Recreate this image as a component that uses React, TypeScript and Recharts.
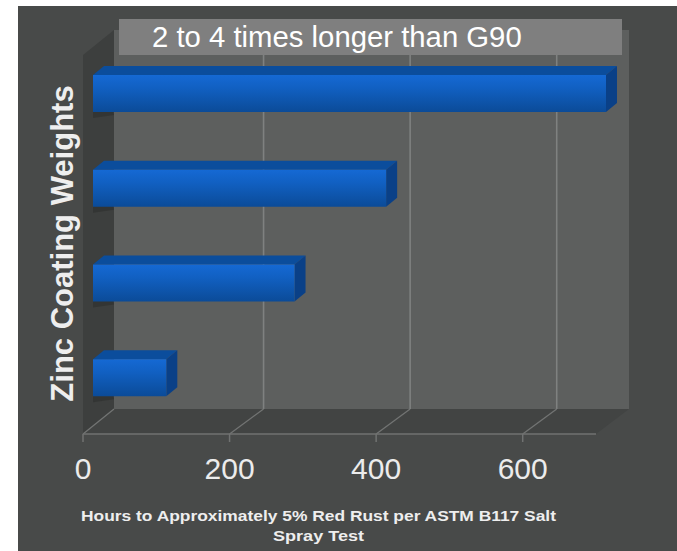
import React from "react";
import { BarChart, Bar, XAxis, YAxis, ReferenceLine } from "recharts";

const coatingWeights = ["G360", "G235", "G185", "G90"];
const rustHours = [700, 400, 275, 100];
const hourTicks = [0, 200, 400, 600];
const tableRows = coatingWeights.map((weight, i) => ({ weight, hours: rustHours[i] }));

const titleText = "2 to 4 times longer than G90";
const yTitle = "Zinc Coating Weights";
const xTitleLines = [
  { text: "Hours to Approximately 5% Red Rust per ASTM B117 Salt", length: 475 },
  { text: "Spray Test", length: 91 },
];

// Extrusion of the pseudo-3D box that surrounds the plot.
const WALL_DX = 34;
const WALL_DY = 25;
// Placement and extrusion of each bar inside that box.
const BAR_SHIFT_X = 10;
const BAR_SHIFT_Y = 9;
const BAR_DX = 11;
const BAR_DY = 9;

// A gridline climbs the back wall and runs across the floor to its tick.
const DepthGridLine = ({ x1, y1, y2, dx, showWall }: any) => {
  const top = Math.min(y1, y2);
  const bottom = Math.max(y1, y2);
  const bx = x1 + dx;
  return (
    <g fill="none">
      {showWall && <line x1={bx} y1={top} x2={bx} y2={bottom - WALL_DY} stroke="#7f8180" strokeWidth={1.6} />}
      <line x1={bx} y1={bottom - WALL_DY} x2={x1} y2={bottom} stroke="#727473" strokeWidth={1.3} />
    </g>
  );
};

const Bar3D = ({ x, y, width, height }: any) => {
  const fx = x + BAR_SHIFT_X;
  const fy = y - BAR_SHIFT_Y;
  const r = fx + width;
  const b = fy + height;
  return (
    <g>
      <polygon
        points={`${fx},${fy} ${fx + 12},${fy + 2} ${fx + 21},${b + 3} ${fx},${b + 6}`}
        fill="#2b2d2c"
        opacity={0.55}
      />
      <polygon
        points={`${fx},${fy} ${fx + BAR_DX},${fy - BAR_DY} ${r + BAR_DX},${fy - BAR_DY} ${r},${fy}`}
        fill="#0b4d9c"
      />
      <polygon
        points={`${r},${fy} ${r + BAR_DX},${fy - BAR_DY} ${r + BAR_DX},${b - BAR_DY} ${r},${b}`}
        fill="#0a4087"
      />
      <rect x={fx} y={fy} width={width} height={height} fill="url(#barFace)" />
    </g>
  );
};

export default function App() {
  return (
    <div style={{ position: "absolute", left: 0, top: 0, width: 677, height: 551, background: "#fff", overflow: "hidden" }}>
      <BarChart
        width={677}
        height={551}
        data={tableRows}
        layout="vertical"
        margin={{ top: 55, right: 81, bottom: 0, left: 83 }}
        style={{ fontFamily: "'Liberation Sans', Arial, sans-serif" }}
      >
        <defs>
          <linearGradient id="barFace" x1="0" y1="0" x2="0" y2="1">
            <stop offset="0" stopColor="#1569d4" />
            <stop offset="0.35" stopColor="#1160c2" />
            <stop offset="1" stopColor="#0b4b98" />
          </linearGradient>
        </defs>
        {/* panel, back wall, left wall and floor of the box */}
        <rect x={18} y={6} width={659} height={545} fill="#484a49" />
        <polygon points="114,30 629,30 629,409 114,409" fill="#5d5f5e" />
        <polygon points="83,55 114,30 114,409 83,434" fill="#3d3f3e" />
        <polygon points="83,434 114,409 629,409 596,434" fill="#424443" />
        <XAxis
          type="number"
          domain={[0, 700]}
          ticks={hourTicks}
          height={117}
          interval={0}
          stroke="#707271"
          strokeWidth={1.5}
          tickSize={8}
          tickMargin={16}
          tick={{ fill: "#ececec", fontSize: 30 }}
        />
        <YAxis type="category" dataKey="weight" width={0} tick={false} axisLine={false} tickLine={false} />
        {hourTicks.map((tick) => (
          <ReferenceLine
            key={tick}
            x={tick}
            zIndex={100}
            shape={<DepthGridLine showWall={tick > 0} dx={tick > 0 ? WALL_DX : 31} />}
          />
        ))}
        <Bar dataKey="hours" barSize={37} isAnimationActive={false} shape={<Bar3D />} />
        <rect x={119} y={19} width={503} height={36} fill="#7f7f7f" />
        <text x={152} y={47} fill="#ffffff" fontSize={29.3}>
          {titleText}
        </text>
        <text
          x={0}
          y={0}
          transform="translate(73 243.5) rotate(-90)"
          textAnchor="middle"
          fill="#eeeeee"
          fontSize={31}
          fontWeight="bold"
        >
          {yTitle}
        </text>
        {xTitleLines.map((line, i) => (
          <text
            key={line.text}
            x={318.5}
            y={521 + i * 20}
            textAnchor="middle"
            fill="#eeeeee"
            fontSize={15.5}
            fontWeight="bold"
            textLength={line.length}
            lengthAdjust="spacingAndGlyphs"
          >
            {line.text}
          </text>
        ))}
      </BarChart>
    </div>
  );
}
